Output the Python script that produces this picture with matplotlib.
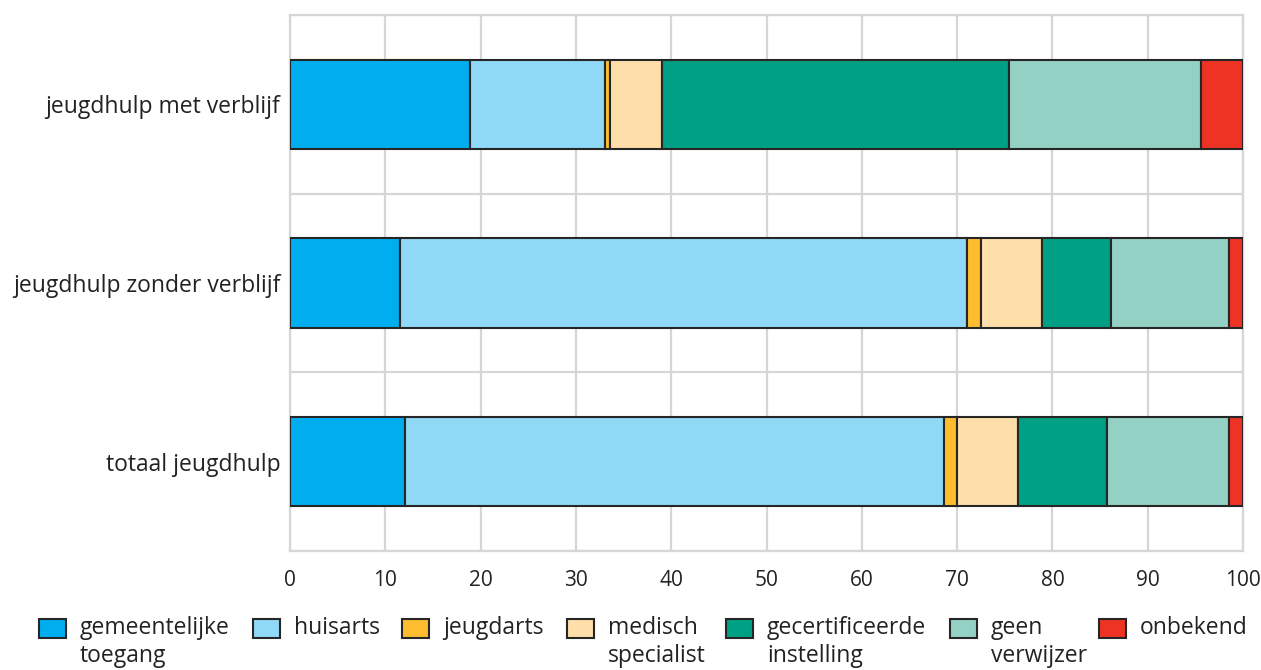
import matplotlib
matplotlib.use("Agg")
import matplotlib.pyplot as plt
from matplotlib.patches import Rectangle

plt.rcParams['font.family'] = ['Open Sans', 'DejaVu Sans']

categories = ['totaal jeugdhulp', 'jeugdhulp zonder verblijf', 'jeugdhulp met verblijf']
series = ['gemeentelijke\ntoegang', 'huisarts', 'jeugdarts', 'medisch\nspecialist',
          'gecertificeerde\ninstelling', 'geen\nverwijzer', 'onbekend']
# percentages per series, order: totaal, zonder verblijf, met verblijf
gemeentelijke = [12.1, 11.5, 18.9]
huisarts = [56.5, 59.5, 14.2]
jeugdarts = [1.4, 1.5, 0.5]
medisch = [6.4, 6.4, 5.4]
gecertificeerd = [9.3, 7.2, 36.4]
geen = [12.8, 12.4, 20.2]
onbekend = [1.5, 1.5, 4.4]
values = [gemeentelijke, huisarts, jeugdarts, medisch, gecertificeerd, geen, onbekend]
colors = ['#00aeef', '#8fd8f6', '#fdbd2f', '#fedea9', '#00a084', '#94d1c5', '#ee3224']
xticks = [0, 10, 20, 30, 40, 50, 60, 70, 80, 90, 100]

W, H = 1261, 670
fig = plt.figure(figsize=(W / 100, H / 100), dpi=100)
ax = fig.add_axes([290 / W, 1 - 551 / H, (1243 - 290) / W, (551 - 15) / H])

left = [0, 0, 0]
for vals, col in zip(values, colors):
    ax.barh(range(len(categories)), vals, left=left, height=0.5, color=col,
            edgecolor='#262626', linewidth=1.5, zorder=3)
    left = [l + v for l, v in zip(left, vals)]

ax.set_xlim(0, 100)
ax.set_ylim(-0.5, 2.5)
ax.set_xticks(xticks)
ax.set_yticks(range(len(categories)))
ax.set_yticklabels(categories, fontsize=16.5, color='#222222')
ax.set_xticklabels([str(t) for t in xticks], fontsize=15, color='#222222')
ax.tick_params(length=0)
ax.tick_params(axis='y', pad=7)
ax.tick_params(axis='x', pad=14)
ax.set_yticks([-0.5, 0.5, 1.5, 2.5], minor=True)
ax.grid(axis='x', color='#d6d6d6', linewidth=1.6, zorder=0)
ax.grid(axis='y', which='minor', color='#d6d6d6', linewidth=1.6, zorder=0)
ax.tick_params(which='minor', length=0)
for s in ax.spines.values():
    s.set_color('#d6d6d6')
    s.set_linewidth(1.6)

# legend drawn by hand so that the box sits next to the first line
handle_x = [39, 253, 402, 567, 726, 950, 1099]
for hx, lab, col in zip(handle_x, series, colors):
    fig.patches.append(Rectangle((hx / W, 1 - 638 / H), 27 / W, 19 / H,
                                 transform=fig.transFigure, facecolor=col,
                                 edgecolor='#262626', linewidth=1.5))
    fig.text((hx + 41) / W, 1 - 616 / H, lab, fontsize=16.5, color='#222222',
             va='top', ha='left', linespacing=1.25)

fig.savefig('out.png', dpi=100)
